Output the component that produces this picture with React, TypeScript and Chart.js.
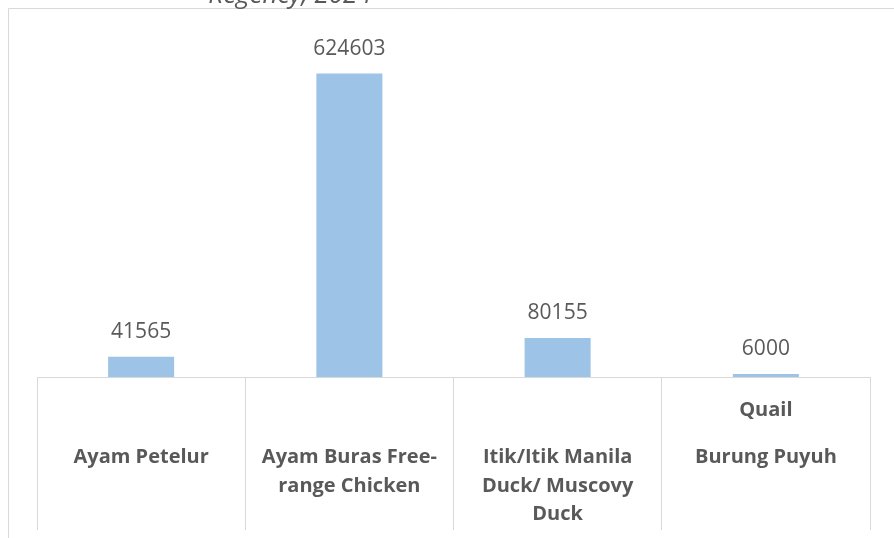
import React, { useEffect, useRef } from "react";
import { Chart, registerables } from "chart.js";

Chart.register(...registerables);

const categories: string[][] = [
  ["Ayam Petelur"],
  ["Ayam Buras Free-", "range Chicken"],
  ["Itik/Itik Manila", "Duck/ Muscovy", "Duck"],
  ["Burung Puyuh"],
];
const upperLabels: string[] = ["", "", "", "Quail"];
const values: number[] = [41565, 624603, 80155, 6000];
const titleTail = "Regency, 2024";

const GRAY = "#d9d9d9";
const TEXT = "#595959";

const decorPlugin = {
  id: "decor",
  beforeDraw(chart: any) {
    const ctx = chart.ctx;
    ctx.save();
    ctx.fillStyle = "#ffffff";
    ctx.fillRect(0, 0, chart.width, chart.height);
    ctx.strokeStyle = GRAY;
    ctx.lineWidth = 1;
    ctx.beginPath();
    ctx.moveTo(8.5, chart.height);
    ctx.lineTo(8.5, 8.5);
    ctx.lineTo(chart.width, 8.5);
    ctx.stroke();
    ctx.fillStyle = TEXT;
    ctx.font = "italic 26px 'Open Sans'";
    ctx.textAlign = "center";
    ctx.textBaseline = "alphabetic";
    ctx.fillText(titleTail, 290, 3);
    ctx.restore();
  },
  afterDraw(chart: any) {
    const ctx = chart.ctx;
    const xs = chart.scales.x;
    const meta = chart.getDatasetMeta(0);
    ctx.save();
    ctx.fillStyle = TEXT;
    ctx.textAlign = "center";
    ctx.textBaseline = "alphabetic";
    ctx.font = "21px 'Open Sans'";
    meta.data.forEach((bar: any, i: number) => {
      ctx.fillText(String(values[i]), bar.x, bar.y - 19);
    });
    ctx.font = "bold 20px 'Open Sans'";
    const base = xs.top + 86;
    categories.forEach((lines, i) => {
      const x = xs.getPixelForValue(i);
      lines.forEach((ln, j) => ctx.fillText(ln, x, base + j * 28.7));
      if (upperLabels[i]) ctx.fillText(upperLabels[i], x, base - 47);
    });
    ctx.restore();
  },
};

export default function App() {
  const ref = useRef<HTMLCanvasElement | null>(null);
  useEffect(() => {
    if (!ref.current) return;
    const chart = new Chart(ref.current, {
      type: "bar",
      data: {
        labels: categories.map((c) => c.join(" ")),
        datasets: [
          {
            data: values,
            backgroundColor: "#9dc3e6",
            categoryPercentage: 1,
            barPercentage: 0.317,
          },
        ],
      },
      options: {
        responsive: false,
        animation: false,
        layout: { padding: { left: 37, right: 24, top: 37, bottom: 8 } },
        plugins: { legend: { display: false }, tooltip: { enabled: false } },
        scales: {
          x: {
            ticks: { display: false },
            grid: {
              offset: true,
              drawOnChartArea: false,
              drawTicks: true,
              tickLength: 153,
              tickColor: GRAY,
              color: GRAY,
            },
            border: { display: true, color: GRAY },
          },
          y: { display: false, min: 0, max: 700000 },
        },
      },
      plugins: [decorPlugin],
    });
    return () => chart.destroy();
  }, []);
  return (
    <div style={{ position: "absolute", left: 0, top: 0, width: 894, height: 538 }}>
      <canvas ref={ref} width={894} height={538} />
    </div>
  );
}
